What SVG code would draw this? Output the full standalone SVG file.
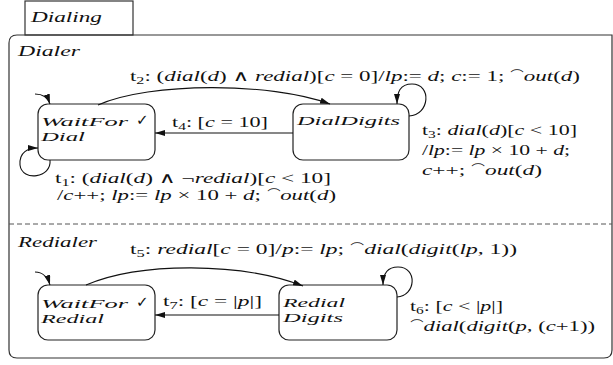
<svg xmlns="http://www.w3.org/2000/svg" width="613" height="365" viewBox="0 0 613 365">
<defs>
<marker id="ah" viewBox="0 0 10 6" refX="10" refY="3" markerWidth="10" markerHeight="6" markerUnits="userSpaceOnUse" orient="auto">
<path d="M0,0 L10,3 L0,6 Z" fill="#111"/>
</marker>
<style>
.t{font-family:"Liberation Serif","DejaVu Serif",serif;font-size:15px;fill:#111}
.n{font-size:13.5px}
.i{font-style:italic}
.s{font-size:10.5px}
.node{fill:#fff;stroke:#222;stroke-width:1.2}
.box{fill:none;stroke:#333;stroke-width:1.2}
.e{fill:none;stroke:#111;stroke-width:1.1;marker-end:url(#ah)}
.ck{font-family:"DejaVu Sans",sans-serif;font-size:15px;fill:#111}
</style>
</defs>
<rect width="613" height="365" fill="#fff"/>

<g id="Dialing">
<rect class="box" x="25" y="1" width="108" height="34"/>
<path class="box" d="M17,35 H612 V350 Q612,358 604,358 H17 Q9,358 9,350 V43 Q9,35 17,35 Z"/>
<text class="t i" x="31" y="22" textLength="71" lengthAdjust="spacingAndGlyphs">Dialing</text>
</g>

<g id="Dialer">
<text class="t i" x="18" y="56" textLength="62" lengthAdjust="spacingAndGlyphs">Dialer</text>
</g>
<line x1="9" y1="224" x2="612" y2="224" stroke="#555" stroke-width="1" stroke-dasharray="5,3"/>
<g id="Redialer">
<text class="t i" x="18" y="247" textLength="79" lengthAdjust="spacingAndGlyphs">Redialer</text>
</g>

<g id="WaitForDial">
<rect class="node" x="38" y="104" width="117" height="56" rx="10"/>
<text class="t n i" x="41" y="126" textLength="87" lengthAdjust="spacingAndGlyphs">WaitFor</text>
<text class="ck" x="136" y="125">✓</text>
<text class="t n i" x="41" y="141" textLength="44" lengthAdjust="spacingAndGlyphs">Dial</text>
</g>

<g id="DialDigits">
<rect class="node" x="293" y="104" width="116" height="56" rx="10"/>
<text class="t n i" x="297" y="125" textLength="103" lengthAdjust="spacingAndGlyphs">DialDigits</text>
</g>

<g id="WaitForRedial">
<rect class="node" x="38" y="285" width="117" height="55" rx="10"/>
<text class="t n i" x="41" y="308" textLength="87" lengthAdjust="spacingAndGlyphs">WaitFor</text>
<text class="ck" x="136" y="307">✓</text>
<text class="t n i" x="41" y="323" textLength="63" lengthAdjust="spacingAndGlyphs">Redial</text>
</g>

<g id="RedialDigits">
<rect class="node" x="279" y="285" width="118" height="55" rx="10"/>
<text class="t n i" x="283" y="307" textLength="62" lengthAdjust="spacingAndGlyphs">Redial</text>
<text class="t n i" x="283" y="322" textLength="60" lengthAdjust="spacingAndGlyphs">Digits</text>
</g>

<g id="connectors">
<path class="e" d="M35,94 C43,94 48,98 50,104"/>
<path class="e" d="M98,105 C150,82 270,82 330,104"/>
<path class="e" d="M409,116 C430,115 432,84 412,84 C400,84 397,92 397,104"/>
<path class="e" d="M293,133 L155,133"/>
<path class="e" d="M50,160 C52,178 22,182 20,165 C19,152 28,148 38,148"/>
<path class="e" d="M35,272 C43,272 48,278 50,285"/>
<path class="e" d="M86,285 C140,262 240,262 303,286"/>
<path class="e" d="M397,297 C416,296 418,267 398,267 C387,267 383,274 383,285"/>
<path class="e" d="M279,315 L155,315"/>
</g>

<g id="labels">
<text class="t" x="130" y="81" textLength="450" lengthAdjust="spacingAndGlyphs">t<tspan class="s" dy="3">2</tspan><tspan dy="-3">: (</tspan><tspan class="i">dial</tspan>(<tspan class="i">d</tspan>) ∧ <tspan class="i">redial</tspan>)[<tspan class="i">c</tspan> = 0]/<tspan class="i">lp</tspan>:= <tspan class="i">d</tspan>; <tspan class="i">c</tspan>:= 1; ⁀<tspan class="i">out</tspan>(<tspan class="i">d</tspan>)</text>
<text class="t" x="172" y="127" textLength="96" lengthAdjust="spacingAndGlyphs">t<tspan class="s" dy="3">4</tspan><tspan dy="-3">: [</tspan><tspan class="i">c</tspan> = 10]</text>
<text class="t" x="55" y="183" textLength="276" lengthAdjust="spacingAndGlyphs">t<tspan class="s" dy="3">1</tspan><tspan dy="-3">: (</tspan><tspan class="i">dial</tspan>(<tspan class="i">d</tspan>) ∧ ¬<tspan class="i">redial</tspan>)[<tspan class="i">c</tspan> &lt; 10]</text>
<text class="t" x="57" y="200" textLength="279" lengthAdjust="spacingAndGlyphs">/<tspan class="i">c</tspan>++; <tspan class="i">lp</tspan>:= <tspan class="i">lp</tspan> × 10 + <tspan class="i">d</tspan>; ⁀<tspan class="i">out</tspan>(<tspan class="i">d</tspan>)</text>
<text class="t" x="422" y="135" textLength="155" lengthAdjust="spacingAndGlyphs">t<tspan class="s" dy="3">3</tspan><tspan dy="-3">: </tspan><tspan class="i">dial</tspan>(<tspan class="i">d</tspan>)[<tspan class="i">c</tspan> &lt; 10]</text>
<text class="t" x="422" y="155" textLength="148" lengthAdjust="spacingAndGlyphs">/<tspan class="i">lp</tspan>:= <tspan class="i">lp</tspan> × 10 + <tspan class="i">d</tspan>;</text>
<text class="t" x="422" y="175" textLength="120" lengthAdjust="spacingAndGlyphs"><tspan class="i">c</tspan>++; ⁀<tspan class="i">out</tspan>(<tspan class="i">d</tspan>)</text>
<text class="t" x="130" y="254" textLength="387" lengthAdjust="spacingAndGlyphs">t<tspan class="s" dy="3">5</tspan><tspan dy="-3">: </tspan><tspan class="i">redial</tspan>[<tspan class="i">c</tspan> = 0]/<tspan class="i">p</tspan>:= <tspan class="i">lp</tspan>; ⁀<tspan class="i">dial</tspan>(<tspan class="i">digit</tspan>(<tspan class="i">lp</tspan>, 1))</text>
<text class="t" x="163" y="306" textLength="99" lengthAdjust="spacingAndGlyphs">t<tspan class="s" dy="3">7</tspan><tspan dy="-3">: [</tspan><tspan class="i">c</tspan> = |<tspan class="i">p</tspan>|]</text>
<text class="t" x="410" y="311" textLength="93" lengthAdjust="spacingAndGlyphs">t<tspan class="s" dy="3">6</tspan><tspan dy="-3">: [</tspan><tspan class="i">c</tspan> &lt; |<tspan class="i">p</tspan>|]</text>
<text class="t" x="410" y="331" textLength="185" lengthAdjust="spacingAndGlyphs">⁀<tspan class="i">dial</tspan>(<tspan class="i">digit</tspan>(<tspan class="i">p</tspan>, (<tspan class="i">c</tspan>+1))</text>
</g>
</svg>
